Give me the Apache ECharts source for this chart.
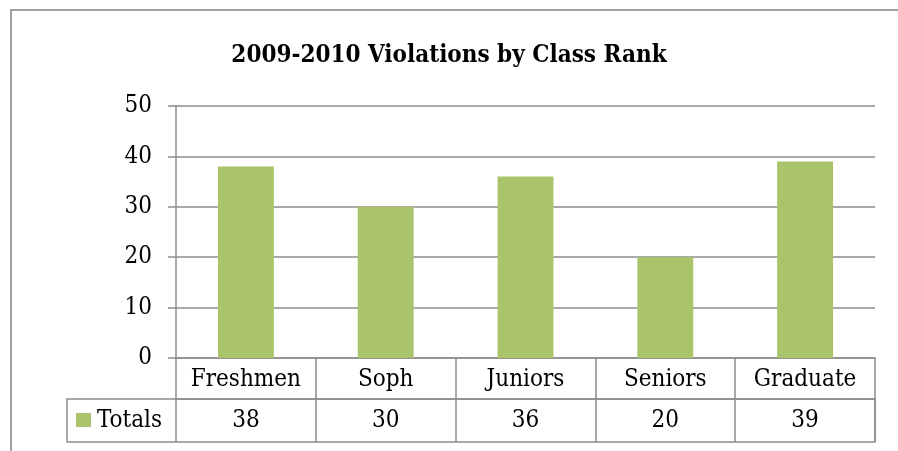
<!DOCTYPE html>
<html>
<head>
<meta charset="utf-8">
<script src="https://cdn.jsdelivr.net/npm/echarts@6/dist/echarts.min.js"></script>
<style>
  html, body { margin: 0; padding: 0; background: #fff; }
  #chart { width: 898px; height: 451px; }
</style>
</head>
<body>
<div id="chart"></div>
<script>
  var categories = ['Freshmen', 'Soph', 'Juniors', 'Seniors', 'Graduate'];
  var totals = [38, 30, 36, 20, 39];
  var seriesName = 'Totals';
  var yTicks = [0, 10, 20, 30, 40, 50];

  var font = '"DejaVu Serif Condensed", "DejaVu Serif", serif';
  var lineColor = '#8c8c8c';
  var barColor = '#aac46c';

  // plot area
  var gLeft = 176, gRight = 23, gTop = 106, gBottom = 93;
  var rowH = 41, row2H = 43;

  var myChart = echarts.init(document.getElementById('chart'));

  var option = {
    animation: false,
    title: {
      text: '2009-2010 Violations by Class Rank',
      left: 'center',
      top: 39,
      textStyle: { fontFamily: font, fontSize: 24, fontWeight: 'bold', color: '#000' }
    },
    grid: { left: gLeft, right: gRight, top: gTop, bottom: gBottom },
    xAxis: [
      {
        type: 'category',
        data: categories,
        axisLine: { lineStyle: { color: lineColor, width: 1.5 } },
        axisTick: { show: true, length: rowH, interval: 0, lineStyle: { color: lineColor, width: 1.5 } },
        axisLabel: { interval: 0, margin: 10, fontFamily: font, fontSize: 24, color: '#000' }
      },
      {
        type: 'category',
        data: categories,
        position: 'bottom',
        offset: rowH,
        axisLine: { lineStyle: { color: lineColor, width: 1.5 } },
        axisTick: { show: true, length: row2H, interval: 0, lineStyle: { color: lineColor, width: 1.5 } },
        axisLabel: {
          interval: 0, margin: 10, fontFamily: font, fontSize: 24, color: '#000',
          formatter: function (v, i) { return String(totals[i]); }
        }
      }
    ],
    yAxis: {
      type: 'value',
      min: yTicks[0],
      max: yTicks[yTicks.length - 1],
      interval: 10,
      axisLine: { show: true, lineStyle: { color: lineColor, width: 1.5 } },
      axisTick: { show: true, length: 8, lineStyle: { color: lineColor, width: 1.5 } },
      axisLabel: { margin: 24, fontFamily: font, fontSize: 24, color: '#000' },
      splitLine: { lineStyle: { color: lineColor, width: 1.5 } }
    },
    series: [
      {
        name: seriesName,
        type: 'bar',
        data: totals,
        barWidth: '40%',
        itemStyle: { color: barColor }
      }
    ]
  };
  myChart.setOption(option);

  // outer frame and legend cell of the data table
  var W = myChart.getWidth(), H = myChart.getHeight();
  var axisY = H - gBottom;
  var cellL = 67;
  myChart.setOption({
    graphic: [
      { type: 'polyline', shape: { points: [[11, H + 5], [11, 10], [W + 5, 10]] }, style: { fill: 'none', stroke: '#a0a0a0', lineWidth: 2 }, silent: true },
      { type: 'rect', shape: { x: cellL, y: axisY + rowH, width: W - gRight - cellL, height: row2H }, style: { fill: 'none', stroke: lineColor, lineWidth: 1.5 }, silent: true },
      { type: 'rect', shape: { x: cellL + 9, y: axisY + rowH + 14, width: 15, height: 14 }, style: { fill: barColor }, silent: true },
      { type: 'text', x: cellL + 30, y: axisY + rowH + row2H / 2, style: { text: seriesName, font: '24px ' + font, fill: '#000', verticalAlign: 'middle' }, silent: true }
    ]
  });

  window.addEventListener('resize', function () { myChart.resize(); });
</script>
</body>
</html>
